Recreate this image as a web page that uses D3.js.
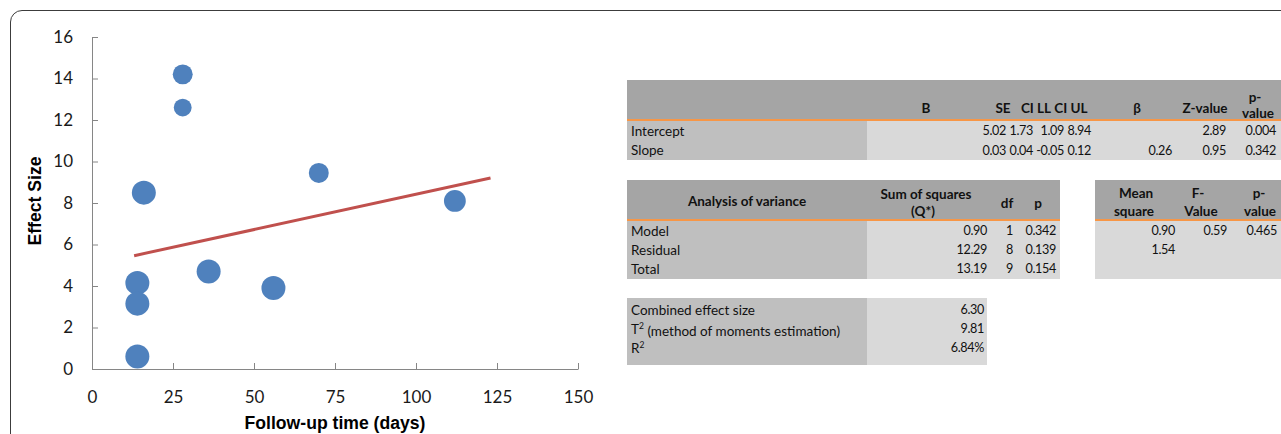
<!DOCTYPE html>
<html>
<head>
<meta charset="utf-8">
<script src="https://cdn.jsdelivr.net/npm/d3@7/dist/d3.min.js"></script>
<style>
  html, body { margin: 0; padding: 0; background: #fff; }
  svg { display: block; }
  .tick text { font-family: Lato, "Open Sans", sans-serif; }
</style>
</head>
<body>
<svg id="fig" width="1281" height="434"></svg>
<script>
// ---- Study data: follow-up time, effect size and study weight ----
const followUpDays = [28, 28, 16, 70, 112, 36, 56, 14, 14, 14];
const effectSizes  = [14.2, 12.6, 8.5, 9.45, 8.1, 4.7, 3.9, 4.15, 3.15, 0.6];
const studyWeights = [1.0, 0.8, 1.45, 1.0, 1.2, 1.45, 1.45, 1.45, 1.45, 1.45];

// ---- Meta-regression fit ----
const fitIntercept = 5.02;
const fitSlope = 0.034;
const fitRange = [13, 123];

// ---- Axis ticks ----
const xTicks = [0, 25, 50, 75, 100, 125, 150];
const yTicks = [0, 2, 4, 6, 8, 10, 12, 14, 16];

// ---- Coefficient table ----
const coefHeaders = ["B", "SE", "CI LL", "CI UL", "β", "Z-value", "p-value"];
const coefRows = ["Intercept", "Slope"];
const coefB    = [fitIntercept, fitSlope];
const coefSE   = [1.73, 0.04];
const coefCILL = [1.09, -0.05];
const coefCIUL = [8.94, 0.12];
const coefBeta = [null, 0.26];
const coefZ    = [2.89, 0.95];
const coefP    = [0.004, 0.342];

// ---- Analysis of variance table ----
const anovaRows  = ["Model", "Residual", "Total"];
const anovaSS    = [0.90, 12.29, 13.19];
const anovaDf    = [1, 8, 9];
const anovaP     = [0.342, 0.139, 0.154];
const anovaMS    = [0.90, 1.54, null];
const anovaF     = [0.59, null, null];
const anovaFP    = [0.465, null, null];

// ---- Summary statistics ----
const summaryLabels = [["Combined effect size"], ["T", "2", " (method of moments estimation)"], ["R", "2", ""]];
const summaryValues = [6.30, 9.81, 0.0684];

const svg = d3.select("#fig");
const f2 = v => d3.format(".2f")(v).replace("−", "-");
const f3 = d3.format(".3f"), pct = d3.format(".2%");
const TABLE_FONT = "Lato, 'Open Sans', sans-serif";

// Outer frame with a rounded corner
svg.append("path")
  .attr("d", "M10.5,445 V22 A11.5,11.5 0 0 1 22,10.5 H1290")
  .attr("fill", "none").attr("stroke", "#3c3c3c").attr("stroke-width", 1);

// ---------------- Scatter chart ----------------
const x = d3.scaleLinear().domain([0, 150]).range([92, 578]);
const y = d3.scaleLinear().domain([0, 16]).range([369, 37]);
const r = d3.scaleSqrt().domain([0, d3.max(studyWeights)]).range([0, 12]);

const xAxis = d3.axisBottom(x).tickValues(xTicks).tickSizeInner(-6).tickSizeOuter(0).tickPadding(22);
const yAxis = d3.axisLeft(y).tickValues(yTicks).tickSizeInner(-6).tickSizeOuter(0).tickPadding(19);

const gx = svg.append("g").attr("transform", `translate(0,${y(0)})`).call(xAxis);
const gy = svg.append("g").attr("transform", `translate(${x(0)},0)`).call(yAxis);
[gx, gy].forEach(g => {
  g.select(".domain").attr("stroke", "#868686");
  g.selectAll(".tick line").attr("stroke", "#868686");
  g.selectAll(".tick text").attr("fill", "#1a1a1a").style("font-size", "17px");
});

svg.append("text")
  .attr("x", 335).attr("y", 429)
  .attr("text-anchor", "middle")
  .style("font-family", "'Liberation Sans', Arial, sans-serif")
  .style("font-weight", "bold").style("font-size", "17.6px")
  .text("Follow-up time (days)");

svg.append("text")
  .attr("transform", `translate(41,${y(8) - 2}) rotate(-90)`)
  .attr("text-anchor", "middle")
  .style("font-family", "'Liberation Sans', Arial, sans-serif")
  .style("font-weight", "bold").style("font-size", "17.6px")
  .text("Effect Size");

const studies = followUpDays.map((d, i) => ({ x: d, y: effectSizes[i], w: studyWeights[i] }));
svg.append("g").selectAll("circle")
  .data(studies).join("circle")
  .attr("cx", d => x(d.x)).attr("cy", d => y(d.y)).attr("r", d => r(d.w))
  .attr("fill", "#4f81bd");

svg.append("path")
  .datum(fitRange.map(t => [t, fitIntercept + fitSlope * t]))
  .attr("d", d3.line().x(d => x(d[0])).y(d => y(d[1])))
  .attr("fill", "none").attr("stroke", "#c0504d").attr("stroke-width", 3);

// ---------------- Tables ----------------
const HEAD = "#a5a5a5", LABEL = "#bfbfbf", VALUE = "#d9d9d9", ORANGE = "#f79646";

function rect(x0, y0, x1, y1, fill) {
  svg.append("rect").attr("x", x0).attr("y", y0).attr("width", x1 - x0).attr("height", y1 - y0).attr("fill", fill);
}
function txt(xp, yp, s, anchor, bold, size) {
  return svg.append("text").attr("x", xp).attr("y", yp).attr("dy", "0.35em")
    .attr("text-anchor", anchor || "start")
    .style("font-family", TABLE_FONT).style("font-size", (size || 13.5) + "px")
    .style("font-weight", bold ? "bold" : "normal")
    .attr("fill", "#111").text(s);
}
// numeric cells: right-aligned, with tighter figures
function num(xp, yp, s) {
  return txt(xp, yp, s, "end", false, 12.6).style("letter-spacing", "-0.35px");
}
function orange(x0, x1, yy) {
  svg.append("line").attr("x1", x0).attr("x2", x1).attr("y1", yy).attr("y2", yy)
    .attr("stroke", ORANGE).attr("stroke-width", 2);
}

// Coefficient table
rect(627, 80, 1281, 120, HEAD);
rect(627, 120, 867, 160, LABEL);
rect(867, 120, 1281, 160, VALUE);
orange(627, 1281, 120);
const coefHeadX = [926, 1003, 1036, 1071, 1137, 1205];
coefHeaders.slice(0, 6).forEach((h, i) => txt(coefHeadX[i], 108, h, "middle", true));
txt(1255, 97, "p-", "middle", true);
txt(1258, 113, "value", "middle", true);
const coefRowY = [131, 150.5];
const coefCols = [
  { v: coefB, fmt: f2, x: 1006 },
  { v: coefSE, fmt: f2, x: 1033 },
  { v: coefCILL, fmt: f2, x: 1064 },
  { v: coefCIUL, fmt: f2, x: 1091 },
  { v: coefBeta, fmt: f2, x: 1172 },
  { v: coefZ, fmt: f2, x: 1226 },
  { v: coefP, fmt: f3, x: 1276 }
];
coefRows.forEach((lab, i) => {
  txt(631, coefRowY[i], lab);
  coefCols.forEach(c => { if (c.v[i] != null) num(c.x, coefRowY[i], c.fmt(c.v[i])); });
});

// Analysis of variance
rect(627, 180, 1060, 220, HEAD);
rect(627, 220, 867, 279, LABEL);
rect(867, 220, 1060, 279, VALUE);
orange(627, 1060, 220);
txt(747, 201, "Analysis of variance", "middle", true);
txt(926, 194, "Sum of squares", "middle", true);
txt(923, 211, "(Q*)", "middle", true);
txt(1007, 203, "df", "middle", true);
txt(1038, 203, "p", "middle", true);

rect(1095, 180, 1281, 220, HEAD);
rect(1095, 220, 1281, 279, VALUE);
orange(1095, 1281, 220);
txt(1136, 193, "Mean", "middle", true);
txt(1134, 211, "square", "middle", true);
txt(1198, 193, "F-", "middle", true);
txt(1201, 211, "Value", "middle", true);
txt(1259, 193, "p-", "middle", true);
txt(1260, 211, "value", "middle", true);

const anovaRowY = [231, 250, 269];
anovaRows.forEach((lab, i) => {
  txt(631, anovaRowY[i], lab);
  num(987, anovaRowY[i], f2(anovaSS[i]));
  num(1013, anovaRowY[i], anovaDf[i]);
  num(1056, anovaRowY[i], f3(anovaP[i]));
  if (anovaMS[i] != null) num(1175, anovaRowY[i], f2(anovaMS[i]));
  if (anovaF[i] != null) num(1227, anovaRowY[i], f2(anovaF[i]));
  if (anovaFP[i] != null) num(1277, anovaRowY[i], f3(anovaFP[i]));
});

// Summary statistics
rect(627, 298, 867, 365, LABEL);
rect(867, 298, 987, 365, VALUE);
const sumRowY = [310, 329, 348];
const sumFmt = [f2, f2, pct];
summaryLabels.forEach((parts, i) => {
  const t = txt(631, sumRowY[i], "");
  t.append("tspan").text(parts[0]);
  if (parts.length > 2) {
    t.append("tspan").attr("dy", "-0.5em").style("font-size", "8.5px").text(parts[1]);
    t.append("tspan").attr("dy", "0.5em").text(parts[2]);
  }
  num(984, sumRowY[i], sumFmt[i](summaryValues[i]));
});
</script>
</body>
</html>
